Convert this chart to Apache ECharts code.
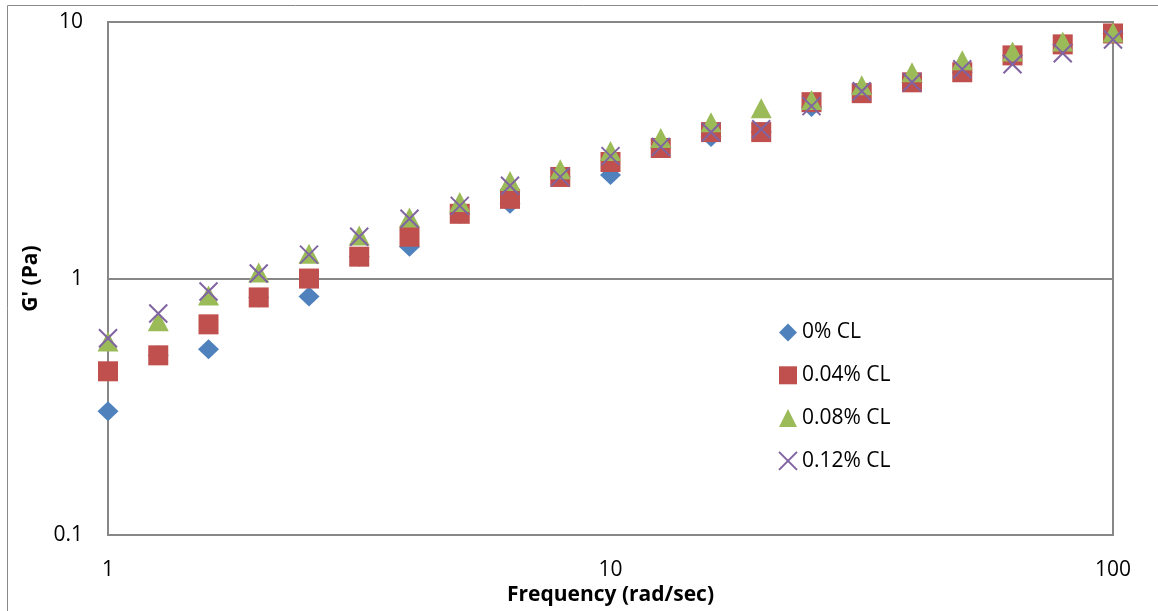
<!DOCTYPE html>
<html><head><meta charset="utf-8">
<script src="https://cdn.jsdelivr.net/npm/echarts@6/dist/echarts.min.js"></script>
<style>html,body{margin:0;padding:0;background:#fff}#c{width:1158px;height:611px}</style>
</head><body><div id="c"></div>
<script>
const freq = [1, 1.259, 1.585, 1.995, 2.512, 3.162, 3.981, 5.012, 6.31, 7.943, 10, 12.59, 15.85, 19.95, 25.12, 31.62, 39.81, 50.12, 63.1, 79.43, 100];
const cl0   = [0.304, 0.502, 0.530, 0.844, 0.851, 1.217, 1.331, 1.788, 1.956, 2.489, 2.534, 3.227, 3.56, 3.723, 4.66, 5.28, 5.82, 6.37, 7.41, 8.18, 9.02];
const cl004 = [0.435, 0.502, 0.663, 0.844, 1.0, 1.217, 1.456, 1.788, 2.045, 2.489, 2.847, 3.227, 3.723, 3.723, 4.87, 5.28, 5.82, 6.37, 7.41, 8.18, 9.02];
const cl008 = [0.569, 0.681, 0.859, 1.055, 1.25, 1.47, 1.73, 1.99, 2.40, 2.67, 3.14, 3.53, 4.07, 4.61, 4.96, 5.67, 6.37, 7.09, 7.68, 8.40, 9.10];
const cl012 = [0.585, 0.731, 0.890, 1.046, 1.24, 1.456, 1.71, 1.92, 2.30, 2.49, 3.00, 3.26, 3.72, 3.82, 4.70, 5.37, 5.82, 6.54, 6.84, 7.55, 8.55];
const names = ['0% CL', '0.04% CL', '0.08% CL', '0.12% CL'];
const xTitle = 'Frequency (rad/sec)';
const yTitle = "G' (Pa)";

const FONT = '"Open Sans", sans-serif';
const pair = arr => freq.map((f, i) => [f, arr[i]]);
const cross = 'path://M0,0L10,10M10,0L0,10';
const chart = echarts.init(document.getElementById('c'), null, {renderer: 'canvas'});
chart.setOption({
  animation: false,
  backgroundColor: '#fff',
  graphic: [{type: 'rect', shape: {x: 7.5, y: 5.5, width: 1160, height: 620}, style: {fill: 'none', stroke: '#8a8a8a', lineWidth: 1}, silent: true}],
  grid: {left: 108, right: 45, top: 22, bottom: 74, show: true, borderColor: '#878787', borderWidth: 2},
  legend: {
    orient: 'vertical', left: 773, top: 317, itemGap: 21.8, itemWidth: 18, itemHeight: 18,
    textStyle: {fontFamily: FONT, fontSize: 21, color: '#000', lineHeight: 18},
    data: names
  },
  xAxis: {
    type: 'log', logBase: 10, min: 1, max: 100,
    name: xTitle, nameLocation: 'middle', nameGap: 42,
    nameTextStyle: {fontFamily: FONT, fontSize: 21, fontWeight: 'bold', color: '#000'},
    axisLine: {show: true, lineStyle: {color: '#878787', width: 2}},
    axisTick: {show: false},
    splitLine: {show: false},
    axisLabel: {fontFamily: FONT, fontSize: 21, color: '#000', margin: 24}
  },
  yAxis: {
    type: 'log', logBase: 10, min: 0.1, max: 10,
    name: yTitle, nameLocation: 'middle', nameGap: 66, nameRotate: 90,
    nameTextStyle: {fontFamily: FONT, fontSize: 21, fontWeight: 'bold', color: '#000'},
    axisLine: {show: true, lineStyle: {color: '#878787', width: 2}},
    axisTick: {show: false},
    splitLine: {show: true, lineStyle: {color: '#878787', width: 2}},
    axisLabel: {fontFamily: FONT, fontSize: 21, color: '#000', margin: 25, formatter: v => String(+v.toPrecision(3))}
  },
  series: [
    {name: names[0], type: 'scatter', data: pair(cl0), symbol: 'diamond', symbolSize: [21, 20], itemStyle: {color: '#4F81BD', opacity: 1}},
    {name: names[1], type: 'scatter', data: pair(cl004), symbol: 'rect', symbolSize: 20, itemStyle: {color: '#C0504D', opacity: 1}},
    {name: names[2], type: 'scatter', data: pair(cl008), symbol: 'triangle', symbolSize: [21, 20], itemStyle: {color: '#9BBB59', opacity: 1}},
    {name: names[3], type: 'scatter', data: pair(cl012), symbol: cross, symbolSize: 18, itemStyle: {color: 'rgba(0,0,0,0)', borderColor: '#8064A2', borderWidth: 2, opacity: 1}}
  ]
});
</script></body></html>
